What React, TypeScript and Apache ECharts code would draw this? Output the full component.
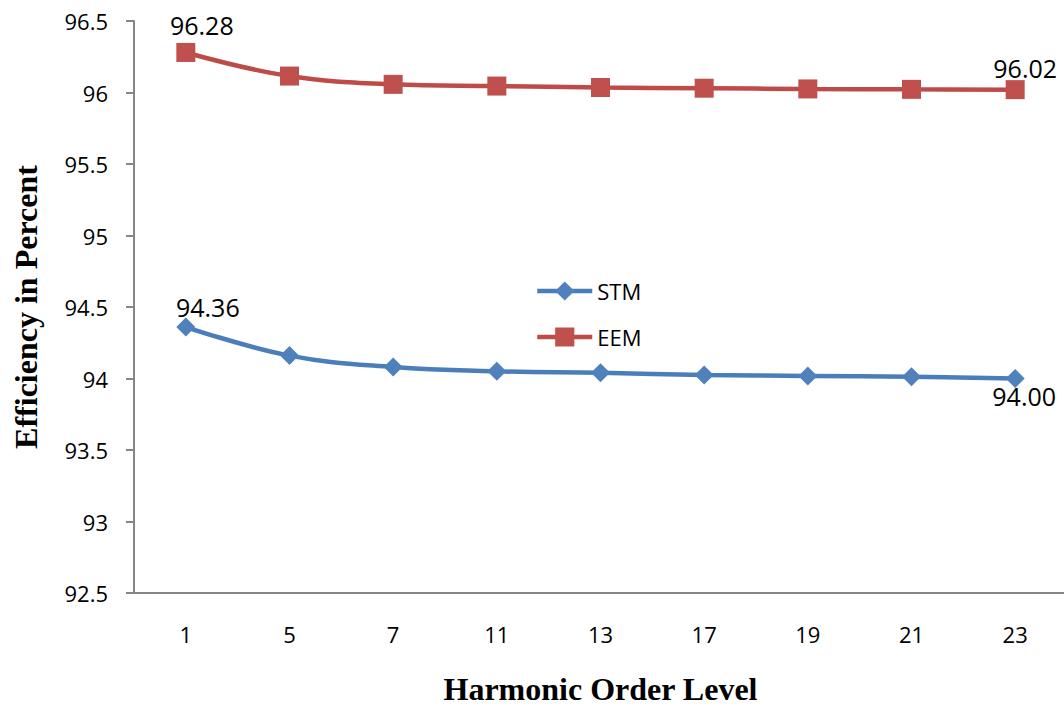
import React, { useEffect, useRef } from "react";
import * as echarts from "echarts";

const categories = ["1", "5", "7", "11", "13", "17", "19", "21", "23"];
const stmValues = [94.36, 94.16, 94.08, 94.05, 94.04, 94.025, 94.018, 94.012, 94.0];
const eemValues = [96.28, 96.115, 96.057, 96.045, 96.035, 96.03, 96.025, 96.022, 96.02];
const yTicks = { min: 92.5, max: 96.5, interval: 0.5 };
// indices of points carrying a data label, with label offsets
const stmLabels = [
  { index: 0, offset: [22, -20] },
  { index: 8, offset: [9, 17] },
];
const eemLabels = [
  { index: 0, offset: [16, -27] },
  { index: 8, offset: [10, -22] },
];

const BLUE_LINE = "#4A7EBB";
const BLUE_MARK = "#4F81BD";
const RED_LINE = "#BE4B48";
const RED_MARK = "#C0504D";
const SANS = "'Open Sans', 'Noto Sans', sans-serif";
const SERIF = "'Liberation Serif', 'Times New Roman', serif";

function buildData(values: number[], labels: { index: number; offset: number[] }[]) {
  return values.map((v, i) => {
    const l = labels.find((x) => x.index === i);
    if (!l) return v;
    return {
      value: v,
      label: { show: true, position: "inside", offset: l.offset },
    };
  });
}

export default function App() {
  const ref = useRef<HTMLDivElement>(null);
  useEffect(() => {
    if (!ref.current) return;
    const chart = echarts.init(ref.current, null, { renderer: "svg" });
    const labelStyle = {
      show: false,
      color: "#000",
      fontFamily: SANS,
      fontSize: 25,
      formatter: (p: any) => Number(p.value).toFixed(2),
    };
    chart.setOption({
      animation: false,
      backgroundColor: "#fff",
      grid: {
        left: 134,
        width: 933,
        top: 21,
        bottom: 114,
        containLabel: false,
        outerBoundsMode: "none",
      },
      legend: {
        orient: "vertical",
        left: 535,
        top: 280,
        padding: 0,
        itemWidth: 55,
        itemHeight: 24,
        itemGap: 24,
        lineStyle: { width: 4.5 },
        textStyle: { color: "#000", fontFamily: SANS, fontSize: 22 },
        data: ["STM", "EEM"],
      },
      xAxis: {
        type: "category",
        data: categories,
        boundaryGap: true,
        axisLine: { show: true, lineStyle: { color: "#868686", width: 2 } },
        axisTick: { show: false },
        axisLabel: { color: "#000", fontFamily: SANS, fontSize: 22, margin: 30 },
        splitLine: { show: false },
        name: "Harmonic Order Level",
        nameLocation: "middle",
        nameGap: 80,
        nameTextStyle: { color: "#000", fontFamily: SERIF, fontWeight: "bold", fontSize: 32 },
      },
      yAxis: {
        type: "value",
        min: yTicks.min,
        max: yTicks.max,
        interval: yTicks.interval,
        axisLine: { show: true, lineStyle: { color: "#868686", width: 2 } },
        axisTick: { show: true, length: 8, lineStyle: { color: "#868686", width: 2 } },
        axisLabel: { color: "#000", fontFamily: SANS, fontSize: 22, margin: 26 },
        splitLine: { show: false },
        name: "Efficiency in Percent",
        nameLocation: "middle",
        nameGap: 92,
        nameTextStyle: { color: "#000", fontFamily: SERIF, fontWeight: "bold", fontSize: 32 },
      },
      series: [
        {
          name: "STM",
          type: "line",
          data: buildData(stmValues, stmLabels),
          smooth: 0.4,
          symbol: "diamond",
          symbolSize: 19,
          lineStyle: { color: BLUE_LINE, width: 4.5 },
          itemStyle: { color: BLUE_MARK },
          label: labelStyle,
        },
        {
          name: "EEM",
          type: "line",
          data: buildData(eemValues, eemLabels),
          smooth: 0.4,
          symbol: "rect",
          symbolSize: 19,
          lineStyle: { color: RED_LINE, width: 4.5 },
          itemStyle: { color: RED_MARK },
          label: labelStyle,
        },
      ],
    });
    return () => chart.dispose();
  }, []);
  return (
    <div
      ref={ref}
      style={{ position: "fixed", left: 0, top: 0, width: 1064, height: 707, background: "#fff" }}
    />
  );
}
